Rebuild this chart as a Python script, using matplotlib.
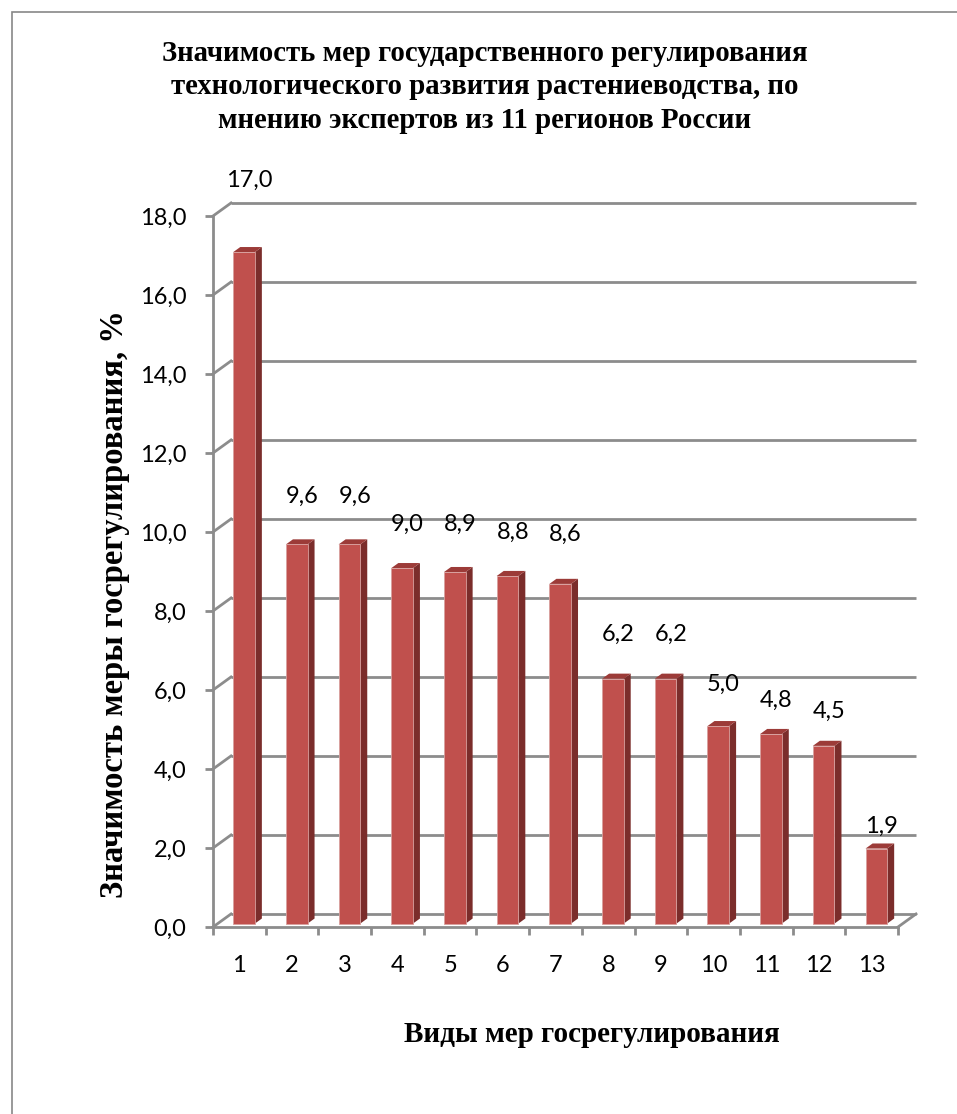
import matplotlib

matplotlib.use("Agg")
import matplotlib.pyplot as plt
from matplotlib.patches import Rectangle

# данные
categories = list(range(1, 14))
values = [17.0, 9.6, 9.6, 9.0, 8.9, 8.8, 8.6, 6.2, 6.2, 5.0, 4.8, 4.5, 1.9]
label_y = [18.9, 10.9, 10.9, 10.2, 10.2, 10.0, 9.95, 7.4, 7.4, 6.15, 5.75, 5.45, 2.55]
y_ticks = [0, 2, 4, 6, 8, 10, 12, 14, 16, 18]

title_lines = ["Значимость мер государственного регулирования",
               "технологического развития растениеводства, по",
               "мнению экспертов из 11 регионов России"]
x_title = "Виды мер госрегулирования"
y_title = "Значимость меры госрегулирования, %"

# стиль
face_color = "#C0504D"
side_color = "#7B2D2B"
top_color = "#9C3B38"
grid_color = "#8C8C8C"
num_font = "Lato"
serif_font = "Liberation Serif"

# "глубина" псевдо-3D в единицах данных
DX, DY = 0.342, 0.33
f0, f1 = 0.26, 0.65
bar_w = 0.41

W, H = 957, 1114
fig = plt.figure(figsize=(W / 100, H / 100), dpi=100)
fig.patch.set_facecolor("white")
fig.add_artist(Rectangle((12 / W, -0.1), 1.2, 1.1 - 12 / H,
                         transform=fig.transFigure, fill=False,
                         edgecolor="#878787", linewidth=1.2))

ax = fig.add_axes([213 / W, (H - 927) / H, (898 - 213) / W, (927 - 216) / H])
ax.set_xlim(0.5, 13.5)
ax.set_ylim(0, 18)
ax.patch.set_visible(False)

# задняя стенка и левая стенка
for y in y_ticks:
    ax.plot([0.5 + DX, 13.5 + DX], [y + DY, y + DY], color=grid_color,
            lw=2, clip_on=False, zorder=1, solid_capstyle="butt")
    ax.plot([0.5, 0.5 + DX], [y, y + DY], color=grid_color,
            lw=2, clip_on=False, zorder=1)
# пол справа
ax.plot([13.5, 13.5 + DX], [0, DY], color=grid_color, lw=2,
        clip_on=False, zorder=1)

# столбцы
xs = [c + f0 * DX for c in categories]
ax.bar(xs, values, width=bar_w, bottom=f0 * DY, color=face_color,
       edgecolor="#D8A09E", linewidth=0.6, zorder=4)
d = f1 - f0
for x, v in zip(xs, values):
    xr = x + bar_w / 2
    xl = x - bar_w / 2
    y0 = f0 * DY
    yt = v + f0 * DY
    ax.fill([xr, xr + d * DX, xr + d * DX, xr],
            [y0, y0 + d * DY, yt + d * DY, yt],
            color=side_color, zorder=3, clip_on=False, lw=0)
    ax.fill([xl, xr, xr + d * DX, xl + d * DX],
            [yt, yt, yt + d * DY, yt + d * DY],
            color=top_color, zorder=3, clip_on=False, lw=0)

# подписи значений
for c, v, ly in zip(categories, values, label_y):
    ax.text(c + 0.19, ly, f"{v:.1f}".replace(".", ","), ha="center",
            va="center", fontsize=17, family=num_font, zorder=6, clip_on=False)

# оси
for side in ["top", "right"]:
    ax.spines[side].set_visible(False)
for side in ["left", "bottom"]:
    ax.spines[side].set_color(grid_color)
    ax.spines[side].set_linewidth(2)
    ax.spines[side].set_zorder(2)

ax.set_yticks(y_ticks)
ax.set_yticklabels([f"{t:.1f}".replace(".", ",") for t in y_ticks],
                   family=num_font, fontsize=17)
ax.tick_params(axis="y", length=6, width=2, color=grid_color, pad=13)

ax.set_xticks([c - 0.5 for c in categories] + [13.5])
ax.set_xticklabels([])
ax.set_xticks(categories, minor=True)
ax.set_xticklabels([str(c) for c in categories], minor=True,
                   family=num_font, fontsize=17)
ax.tick_params(axis="x", which="major", length=6, width=2, color=grid_color)
ax.tick_params(axis="x", which="minor", length=0, pad=20)

for line, base in zip(title_lines, [61, 94.5, 128]):
    fig.text(485 / W, (H - base) / H, line, ha="center", va="baseline",
             family=serif_font, weight="bold", fontsize=20.7)
fig.text(592 / W, (H - 1035) / H, x_title, ha="center", va="center",
         family=serif_font, weight="bold", fontsize=21)
fig.text(115 / W, (H - 604) / H, y_title, ha="center", va="center",
         rotation=90, family=serif_font, weight="bold", fontsize=23.5)

fig.savefig("out.png", dpi=100)
